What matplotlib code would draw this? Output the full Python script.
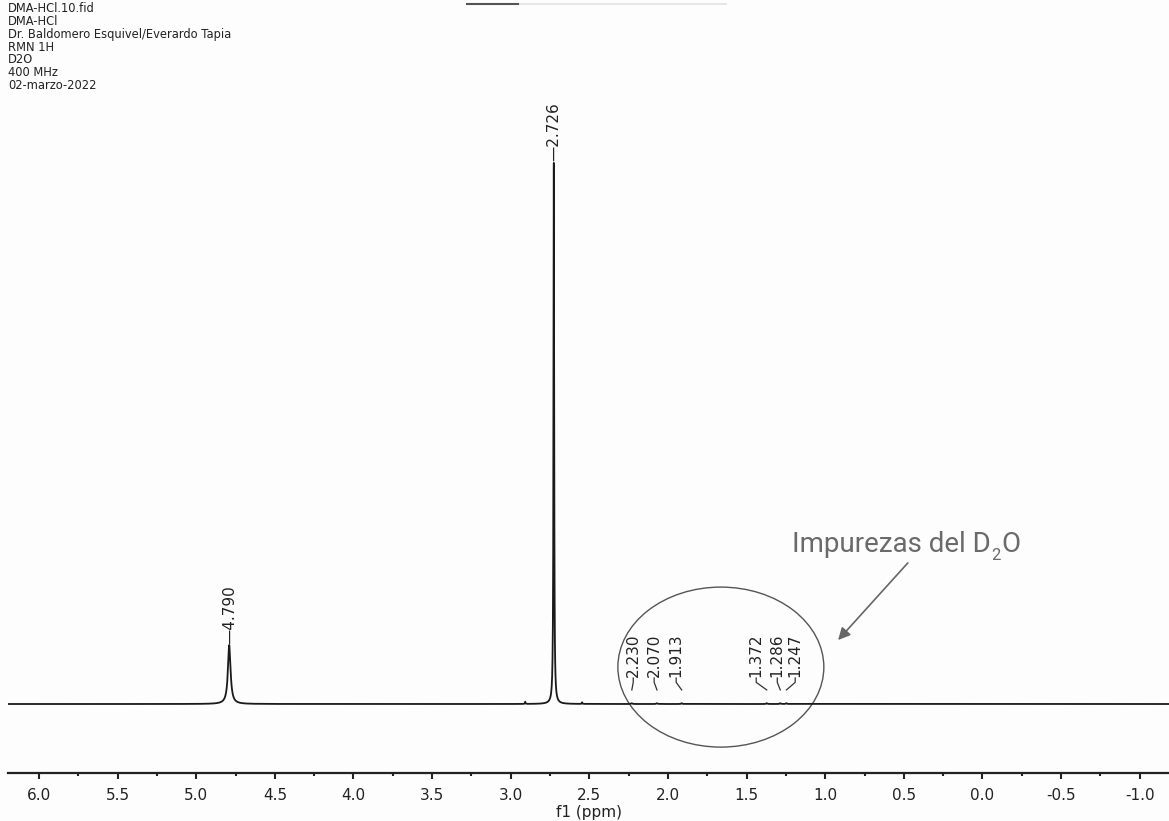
import numpy as np
import matplotlib
matplotlib.use("Agg")
import matplotlib.pyplot as plt
from matplotlib.patches import Ellipse
from matplotlib.lines import Line2D
from matplotlib.transforms import offset_copy

plt.rcParams['axes.unicode_minus'] = False
plt.rcParams['font.family'] = ['DejaVu Sans']

# ---- data ----
header_lines = ["DMA-HCl.10.fid", "DMA-HCl", "Dr. Baldomero Esquivel/Everardo Tapia",
                "RMN 1H", "D2O", "400 MHz", "02-marzo-2022"]

peak_ppm = [4.790, 2.726, 2.908, 2.546, 2.230, 2.070, 1.913, 1.372, 1.286, 1.247]
peak_height = [0.109, 1.000, 0.004, 0.003, 0.0015, 0.0015, 0.0015, 0.0015, 0.0015, 0.0015]
peak_hwhm = [0.010, 0.0025, 0.002, 0.002, 0.004, 0.004, 0.004, 0.004, 0.004, 0.004]

main_labels = [4.790, 2.726]
impurity_labels = [2.230, 2.070, 1.913, 1.372, 1.286, 1.247]
impurity_label_pos = [2.221, 2.088, 1.948, 1.439, 1.305, 1.191]

xticks = [6.0, 5.5, 5.0, 4.5, 4.0, 3.5, 3.0, 2.5, 2.0, 1.5, 1.0, 0.5, 0.0, -0.5, -1.0]
xtick_labels = ["6.0", "5.5", "5.0", "4.5", "4.0", "3.5", "3.0", "2.5", "2.0",
                "1.5", "1.0", "0.5", "0.0", "-0.5", "-1.0"]
xlim = (6.197, -1.186)

# ---- figure ----
W, H = 1169, 821
fig = plt.figure(figsize=(W / 100, H / 100), dpi=100, facecolor='#fdfdfd')
ax = fig.add_axes([8 / W, 48 / H, 1 - 8 / W, 1 - 48 / H])
ax.set_facecolor('none')

x = np.linspace(xlim[1], xlim[0], 120000)
y = np.zeros_like(x)
for p, h, w in zip(peak_ppm, peak_height, peak_hwhm):
    y += h * w ** 2 / ((x - p) ** 2 + w ** 2)
ax.plot(x, y, color='#1a1a1a', lw=1.3)

ax.set_xlim(*xlim)
ax.set_ylim(-0.1275, 1.301)

for s in ['top', 'left', 'right']:
    ax.spines[s].set_visible(False)
ax.spines['bottom'].set_linewidth(1.6)
ax.spines['bottom'].set_color('#222222')
ax.set_yticks([])
ax.set_xticks(xticks)
ax.set_xticklabels(xtick_labels)
ax.set_xticks(np.arange(-1.0, 6.01, 0.25), minor=True)
ax.tick_params(axis='x', which='major', direction='out', length=4, width=1.5,
               labelsize=11, pad=7, colors='#222222')
ax.tick_params(axis='x', which='minor', direction='out', length=1.8, width=1.5,
               colors='#222222')
ax.set_xlabel("f1 (ppm)", fontsize=11, labelpad=1, color='#222222')

# main peak labels
for v in main_labels:
    h = peak_height[peak_ppm.index(v)]
    ax.annotate("\u2014" + f"{v:.3f}", xy=(v, h), xytext=(0, 1), textcoords='offset points',
                rotation=90, ha='center', va='bottom', fontsize=11, color='#222222')

# impurity labels with connectors
y_lab = 0.050
for v, lp in zip(impurity_labels, impurity_label_pos):
    ax.text(lp, y_lab, f"{v:.3f}", rotation=90, ha='center', va='bottom',
            fontsize=11, color='#222222')
    ax.plot([lp, lp, v], [y_lab - 0.002, y_lab - 0.010, y_lab - 0.024],
            color='#333333', lw=0.9)

# annotation: ellipse, text, arrow
ax.add_patch(Ellipse((0.614, 0.137), 0.1774, 0.207, transform=ax.transAxes,
                     fill=False, edgecolor='#555555', lw=1.0, clip_on=False))
tcol = '#6a6a6a'
t1 = ax.text(0.675, 0.286, "Impurezas del D", transform=ax.transAxes,
             fontsize=20, family='Roboto', color=tcol, ha='left', va='baseline')
fig.canvas.draw()
r = fig.canvas.get_renderer()
bb = t1.get_window_extent(renderer=r)
inv = ax.transAxes.inverted()
x_end = inv.transform((bb.x1, bb.y0))[0]
t2 = ax.text(x_end, 0.286, "2", transform=offset_copy(ax.transAxes, fig=fig, x=0.5, y=-6, units='points'),
             fontsize=12, family='Roboto', color=tcol, ha='left', va='baseline')
bb2 = t2.get_window_extent(renderer=r)
x_end2 = inv.transform((bb2.x1, bb2.y0))[0]
ax.text(x_end2, 0.286, "O", transform=offset_copy(ax.transAxes, fig=fig, x=0.5, y=0, units='points'),
        fontsize=20, family='Roboto', color=tcol, ha='left', va='baseline')
ax.annotate("", xy=(0.715, 0.172), xytext=(0.775, 0.2717), xycoords='axes fraction',
            textcoords='axes fraction',
            arrowprops=dict(arrowstyle='-|>', color='#666666', lw=1.2,
                            mutation_scale=18, shrinkA=0, shrinkB=0))

# header text
for i, line in enumerate(header_lines):
    fig.text(8 / W, 1 - (9 + 12.7 * i) / H, line, fontsize=8.3, color='#222222',
             ha='left', va='center')

# top scrollbar remnant
fig.add_artist(Line2D([518 / W, 726 / W], [1 - 4 / H, 1 - 4 / H], color='#e6e6e6', lw=1.5))
fig.add_artist(Line2D([467 / W, 518 / W], [1 - 4 / H, 1 - 4 / H], color='#555555', lw=1.5))

fig.savefig("out.png", dpi=100, facecolor=fig.get_facecolor())
